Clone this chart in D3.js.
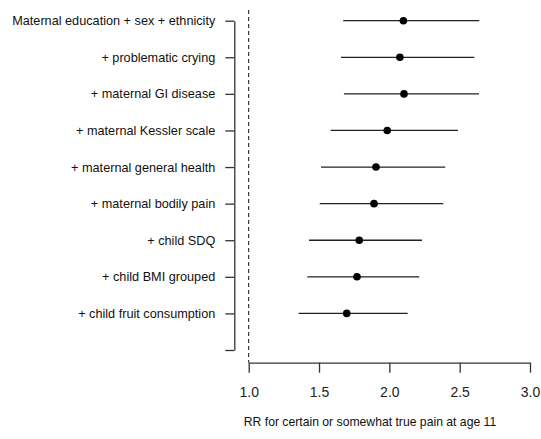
<!DOCTYPE html>
<html><head><meta charset="utf-8">
<script src="https://cdn.jsdelivr.net/npm/d3@7"></script>
<style>body{margin:0;background:#fff}svg{display:block}</style>
</head><body>
<svg id="c" width="541" height="439"></svg>
<script>
const labels = ["Maternal education + sex + ethnicity","+ problematic crying","+ maternal GI disease","+ maternal Kessler scale","+ maternal general health","+ maternal bodily pain","+ child SDQ","+ child BMI grouped","+ child fruit consumption"];
const estimate = [2.10,2.075,2.104,1.985,1.905,1.891,1.786,1.770,1.697];
const lower = [1.672,1.656,1.677,1.583,1.514,1.505,1.429,1.417,1.355];
const upper = [2.639,2.604,2.637,2.488,2.397,2.383,2.232,2.213,2.130];
const xTicks = [1.0,1.5,2.0,2.5,3.0];
const xTitle = "RR for certain or somewhat true pain at age 11";

const svg = d3.select("#c");
const font = "Liberation Sans, Arial, sans-serif";
const x = d3.scaleLinear().domain([1,3]).range([248.7,530]);
const y = d3.scaleLinear().domain([0,9]).range([20.7,350]);
const col = "#222";

// y axis
const yAxis = d3.axisLeft(y).tickValues(d3.range(10)).tickSize(9).tickSizeOuter(0).tickPadding(10)
  .tickFormat(i => labels[i] || "");
const gy = svg.append("g").attr("transform","translate(234.3,0)").call(yAxis);
gy.selectAll("path,line").attr("stroke","#333").attr("stroke-width",1.3);
gy.selectAll("text").attr("font-family",font).attr("font-size",12.7).attr("fill","#111");

// x axis
const xAxis = d3.axisBottom(x).tickValues(xTicks).tickSize(10).tickSizeOuter(0).tickPadding(14)
  .tickFormat(d3.format(".1f"));
const gx = svg.append("g").attr("transform","translate(0,362.7)").call(xAxis);
gx.selectAll("path,line").attr("stroke","#333").attr("stroke-width",1.3);
gx.selectAll("text").attr("font-family",font).attr("font-size",14).attr("fill","#222");

svg.append("text").attr("x",370).attr("y",426).attr("text-anchor","middle")
  .attr("font-family",font).attr("font-size",12.2).attr("fill","#111").text(xTitle);

// reference line
svg.append("line").attr("x1",x(1)).attr("x2",x(1)).attr("y1",10).attr("y2",362.7)
  .attr("stroke","#111").attr("stroke-width",1).attr("stroke-dasharray","4,3");

const idx = d3.range(labels.length);
svg.append("g").selectAll("line").data(idx).join("line")
  .attr("x1",i=>x(lower[i])).attr("x2",i=>x(upper[i]))
  .attr("y1",i=>y(i)).attr("y2",i=>y(i))
  .attr("stroke",col).attr("stroke-width",1.3);
svg.append("g").selectAll("circle").data(idx).join("circle")
  .attr("cx",i=>x(estimate[i])).attr("cy",i=>y(i)).attr("r",3.8).attr("fill","#000");
</script>
</body></html>
